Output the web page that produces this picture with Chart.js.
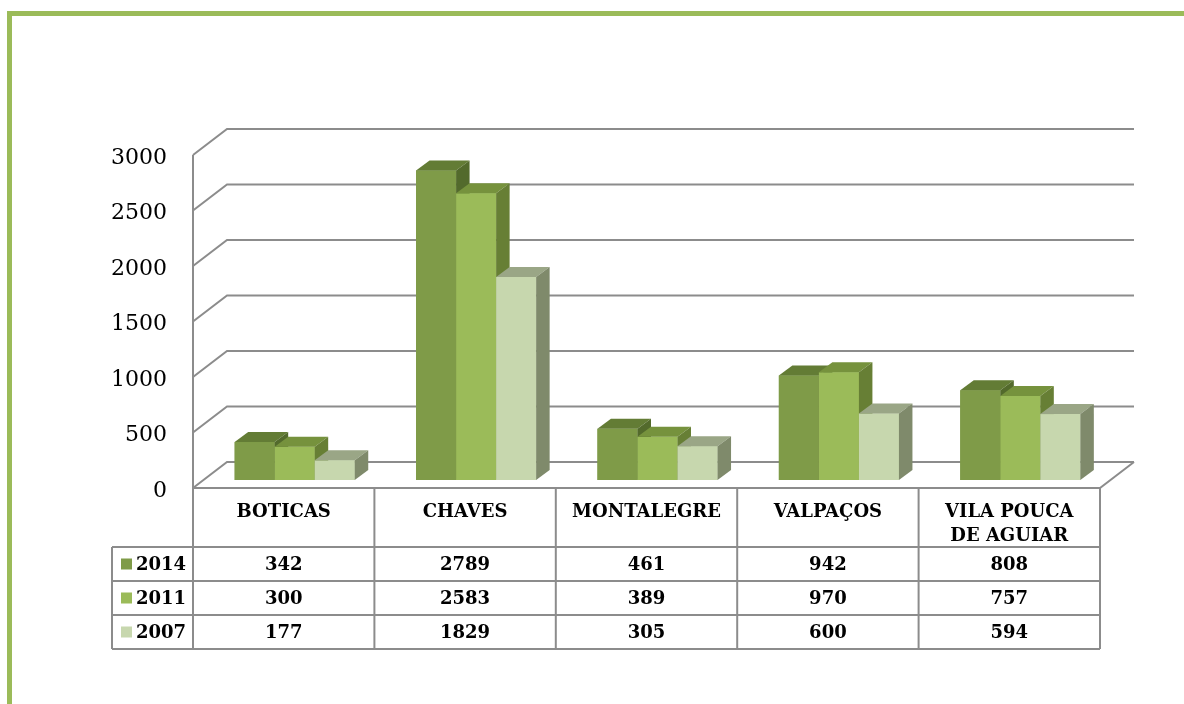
<!DOCTYPE html>
<html>
<head>
<meta charset="utf-8">
<script src="https://cdn.jsdelivr.net/npm/chart.js@4.4.0/dist/chart.umd.min.js"></script>
<style>
  html, body { margin: 0; padding: 0; background: #ffffff; }
  #wrap { position: relative; width: 1184px; height: 704px; }
</style>
</head>
<body>
<div id="wrap"><canvas id="c" width="1184" height="704"></canvas></div>
<script>
// ---- data ----
const categories = ['BOTICAS', 'CHAVES', 'MONTALEGRE', 'VALPAÇOS', ['VILA POUCA', 'DE AGUIAR']];
const seriesNames = ['2014', '2011', '2007'];
const values2014 = [342, 2789, 461, 942, 808];
const values2011 = [300, 2583, 389, 970, 757];
const values2007 = [177, 1829, 305, 600, 594];
const yTickValues = [0, 500, 1000, 1500, 2000, 2500, 3000];

// ---- styles ----
const frontColors = ['#7F9B48', '#9BBB59', '#C7D7AE'];
const topColors   = ['#637C35', '#76923D', '#9AA686'];
const sideColors  = ['#536A2C', '#677F35', '#7F8A6B'];
const WALL_DX = 34, WALL_DY = -26;     // depth of the 3D box
const BAR_OX = 11, BAR_OY = -8;        // bar position inside depth
const BAR_DX = 13.5, BAR_DY = -10;     // bar depth
const LINE = '#8c8c8c';
const TABLE_HEADER_H = 59, ROW_H = 34, LEGEND_LEFT = 112;

const scenePlugin = {
  id: 'scene',
  beforeDraw(chart) {
    const ctx = chart.ctx;
    ctx.save();
    ctx.fillStyle = '#ffffff';
    ctx.fillRect(0, 0, chart.width, chart.height);
    // green frame
    ctx.fillStyle = '#9BBB59';
    ctx.fillRect(7, 11, chart.width - 7, 5);
    ctx.fillRect(7, 11, 5, chart.height - 11);
    ctx.restore();
  },
  beforeDatasetsDraw(chart) {
    const ctx = chart.ctx, ca = chart.chartArea, y = chart.scales.y;
    ctx.save();
    ctx.strokeStyle = LINE;
    ctx.lineWidth = 2;
    ctx.lineCap = 'butt';
    yTickValues.forEach(v => {
      const py = y.getPixelForValue(v);
      ctx.beginPath();
      ctx.moveTo(ca.left, py);
      ctx.lineTo(ca.left + WALL_DX, py + WALL_DY);
      ctx.lineTo(ca.right + WALL_DX, py + WALL_DY);
      ctx.stroke();
    });
    // floor front edge and right diagonal
    const p0 = y.getPixelForValue(0);
    ctx.beginPath();
    ctx.moveTo(ca.left, p0);
    ctx.lineTo(ca.right, p0);
    ctx.lineTo(ca.right + WALL_DX, p0 + WALL_DY);
    ctx.stroke();
    // left wall front edge
    ctx.beginPath();
    ctx.moveTo(ca.left, y.getPixelForValue(3000));
    ctx.lineTo(ca.left, p0);
    ctx.stroke();
    ctx.restore();
  },
  beforeDatasetDraw(chart) {
    chart.ctx.save();
    chart.ctx.translate(BAR_OX, BAR_OY);
  },
  afterDatasetDraw(chart) {
    chart.ctx.restore();
  },
  afterDatasetsDraw(chart) {
    const ctx = chart.ctx;
    const metas = chart.data.datasets.map((d, i) => chart.getDatasetMeta(i));
    const n = chart.data.labels.length;
    ctx.save();
    for (let j = 0; j < n; j++) {
      metas.forEach((meta, i) => {
        const b = meta.data[j].getProps(['x', 'y', 'base', 'width'], true);
        const l = b.x - b.width / 2 + BAR_OX, r = b.x + b.width / 2 + BAR_OX;
        const t = b.y + BAR_OY, bt = b.base + BAR_OY;
        // front
        ctx.fillStyle = frontColors[i];
        ctx.fillRect(l, t, r - l, bt - t);
        // top
        ctx.fillStyle = topColors[i];
        ctx.beginPath();
        ctx.moveTo(l, t); ctx.lineTo(r, t);
        ctx.lineTo(r + BAR_DX, t + BAR_DY); ctx.lineTo(l + BAR_DX, t + BAR_DY);
        ctx.closePath(); ctx.fill();
        // side
        ctx.fillStyle = sideColors[i];
        ctx.beginPath();
        ctx.moveTo(r, t); ctx.lineTo(r + BAR_DX, t + BAR_DY);
        ctx.lineTo(r + BAR_DX, bt + BAR_DY); ctx.lineTo(r, bt);
        ctx.closePath(); ctx.fill();
      });
    }
    ctx.restore();
  },
  afterDraw(chart) {
    const ctx = chart.ctx, ca = chart.chartArea, xs = chart.scales.x;
    const top = ca.bottom;
    const rowsTop = top + TABLE_HEADER_H;
    const bottom = rowsTop + ROW_H * seriesNames.length;
    const n = chart.data.labels.length;
    const colW = (ca.right - ca.left) / n;
    ctx.save();
    ctx.strokeStyle = LINE;
    ctx.lineWidth = 2;
    // vertical lines
    for (let k = 0; k <= n; k++) {
      const x = ca.left + k * colW;
      ctx.beginPath(); ctx.moveTo(x, top); ctx.lineTo(x, bottom); ctx.stroke();
    }
    ctx.beginPath(); ctx.moveTo(LEGEND_LEFT, rowsTop); ctx.lineTo(LEGEND_LEFT, bottom); ctx.stroke();
    // horizontal lines
    for (let r = 0; r <= seriesNames.length; r++) {
      const yy = rowsTop + r * ROW_H;
      ctx.beginPath(); ctx.moveTo(LEGEND_LEFT, yy); ctx.lineTo(ca.right, yy); ctx.stroke();
    }
    // header labels
    ctx.fillStyle = '#000';
    ctx.font = 'bold 18px "DejaVu Serif"';
    ctx.textAlign = 'center';
    ctx.textBaseline = 'middle';
    chart.data.labels.forEach((lab, j) => {
      const cx = xs.getPixelForValue(j);
      const lines = Array.isArray(lab) ? lab : [lab];
      lines.forEach((ln, k) => ctx.fillText(ln, cx, top + 24 + k * 24.5));
    });
    // data rows
    chart.data.datasets.forEach((ds, i) => {
      const cy = rowsTop + i * ROW_H + ROW_H / 2 + 1;
      ctx.textAlign = 'center';
      ds.data.forEach((v, j) => ctx.fillText(String(v), xs.getPixelForValue(j), cy));
      ctx.fillStyle = frontColors[i];
      ctx.fillRect(LEGEND_LEFT + 9, cy - 6.5, 11, 11);
      ctx.fillStyle = '#000';
      ctx.textAlign = 'left';
      ctx.fillText(ds.label, LEGEND_LEFT + 24, cy);
    });
    ctx.restore();
  }
};

new Chart(document.getElementById('c'), {
  type: 'bar',
  data: {
    labels: categories,
    datasets: [
      { label: seriesNames[0], data: values2014, backgroundColor: frontColors[0] },
      { label: seriesNames[1], data: values2011, backgroundColor: frontColors[1] },
      { label: seriesNames[2], data: values2007, backgroundColor: frontColors[2] }
    ]
  },
  options: {
    responsive: false,
    animation: false,
    devicePixelRatio: 1,
    layout: { padding: { left: 0, right: 84, top: 155, bottom: 216 } },
    datasets: { bar: { categoryPercentage: 0.662, barPercentage: 1, borderWidth: 0 } },
    plugins: { legend: { display: false }, tooltip: { enabled: false }, title: { display: false } },
    scales: {
      x: { display: false },
      y: {
        min: 0, max: 3000,
        afterBuildTicks(scale) { scale.ticks = yTickValues.map(v => ({ value: v })); },
        afterFit(scale) { scale.width = 193; },
        ticks: {
          font: { family: 'DejaVu Serif', size: 22 }, color: '#000', padding: 26,
          labelOffset: 3,
          callback: (v) => String(v)
        },
        grid: { display: false, drawTicks: false },
        border: { display: false }
      }
    }
  },
  plugins: [scenePlugin]
});
</script>
</body>
</html>
